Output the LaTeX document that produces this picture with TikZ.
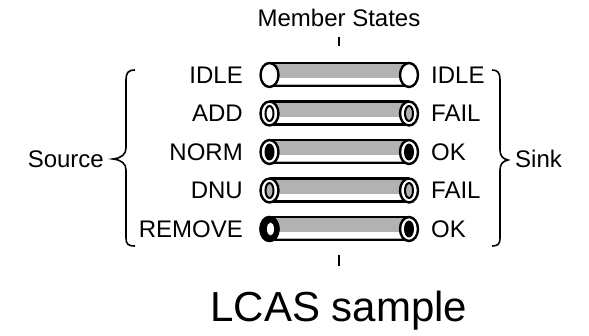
\documentclass[tikz,border=0pt]{standalone}
\usepackage{fontspec}
\setmainfont{Liberation Sans}
\begin{document}
\begin{tikzpicture}[x=1pt,y=-1pt,
  lbl/.style={font=\fontsize{24}{28}\selectfont, inner sep=0pt},
  capline/.style={line width=2.4pt},
  bracestyle/.style={line width=1.6pt},
  tickstyle/.style={line width=2pt},
  pipe/.pic={
    \fill[black!30] (0,-12) rectangle (139.5,12);
    \fill[white] (0,3.5) rectangle (139.5,9.5);
    \draw[capline] (0,-12) -- (139.5,-12);
    \draw[line width=2.8pt] (0,11) -- (139.5,11);
    \draw[capline,fill=white] (0,0) ellipse [x radius=9, y radius=12];
    \draw[capline,fill=white] (139.5,0) ellipse [x radius=9, y radius=12];
  }]
\useasboundingbox (0,0) rectangle (589,336);

% pipes
\foreach \r in {75,113.5,152,190.5,229} { \pic at (269.5,\r) {pipe}; }

% inner marks: ADD / FAIL
\draw[line width=2pt,fill=white] (269.5,113.5) ellipse [x radius=4, y radius=7.5];
\draw[line width=2pt,fill=black!30] (409,113.5) ellipse [x radius=4, y radius=7.5];
% NORM / OK
\fill (269.5,152) ellipse [x radius=5, y radius=8.5];
\fill (409,152) ellipse [x radius=5, y radius=8.5];
% DNU / FAIL
\draw[line width=2pt,fill=black!30] (269.5,190.5) ellipse [x radius=4, y radius=7.5];
\draw[line width=2pt,fill=black!30] (409,190.5) ellipse [x radius=4, y radius=7.5];
% REMOVE / OK
\fill (269.5,229) ellipse [x radius=10.2, y radius=13.2];
\fill[white] (270.5,229) ellipse [x radius=3.5, y radius=6.5];
\fill (409,229) ellipse [x radius=5, y radius=8.5];

% left labels
\node[lbl,anchor=base east] (lidle) at (243,83.5) {IDLE};
\node[lbl,anchor=base east] (ladd) at (243,122) {ADD};
\node[lbl,anchor=base east] (lnorm) at (243,160.5) {NORM};
\node[lbl,anchor=base east] (ldnu) at (243,199) {DNU};
\node[lbl,anchor=base east] (lremove) at (243,237.5) {REMOVE};
% right labels
\node[lbl,anchor=base west] (ridle) at (431,83.5) {IDLE};
\node[lbl,anchor=base west] (rfail) at (431,122) {FAIL};
\node[lbl,anchor=base west] (rok) at (431,160.5) {OK};
\node[lbl,anchor=base west] (rfail2) at (431,199) {FAIL};
\node[lbl,anchor=base west] (rok2) at (431,237.5) {OK};

\node[lbl,anchor=base east] (source) at (104,167.5) {Source};
\node[lbl,anchor=base west] (sink) at (515,167.5) {Sink};
\node[lbl,anchor=base] (member) at (339,27) {Member States};
\node[font=\fontsize{42}{48}\selectfont,inner sep=0pt,anchor=base] (caption) at (339,322) {LCAS sample};

% ticks
\coordinate (t1) at (339,37); \coordinate (t2) at (339,46);
\coordinate (b1) at (339,255); \coordinate (b2) at (339,266);
\draw[tickstyle] (t1) -- (t2);
\draw[tickstyle] (b1) -- (b2);

% braces
\draw[bracestyle] (135,70) .. controls (128,70) and (126,73) .. (126,80) -- (126,148)
  .. controls (126,154) and (122,158) .. (113,159)
  .. controls (122,160) and (126,164) .. (126,170) -- (126,238)
  .. controls (126,244) and (128,246) .. (135,246);
\draw[bracestyle] (492,70) .. controls (498,70) and (500,73) .. (500,80) -- (500,150)
  .. controls (500,156) and (503,159) .. (508,160)
  .. controls (503,161) and (500,164) .. (500,170) -- (500,238)
  .. controls (500,244) and (498,246) .. (492,246);
\end{tikzpicture}
\end{document}
